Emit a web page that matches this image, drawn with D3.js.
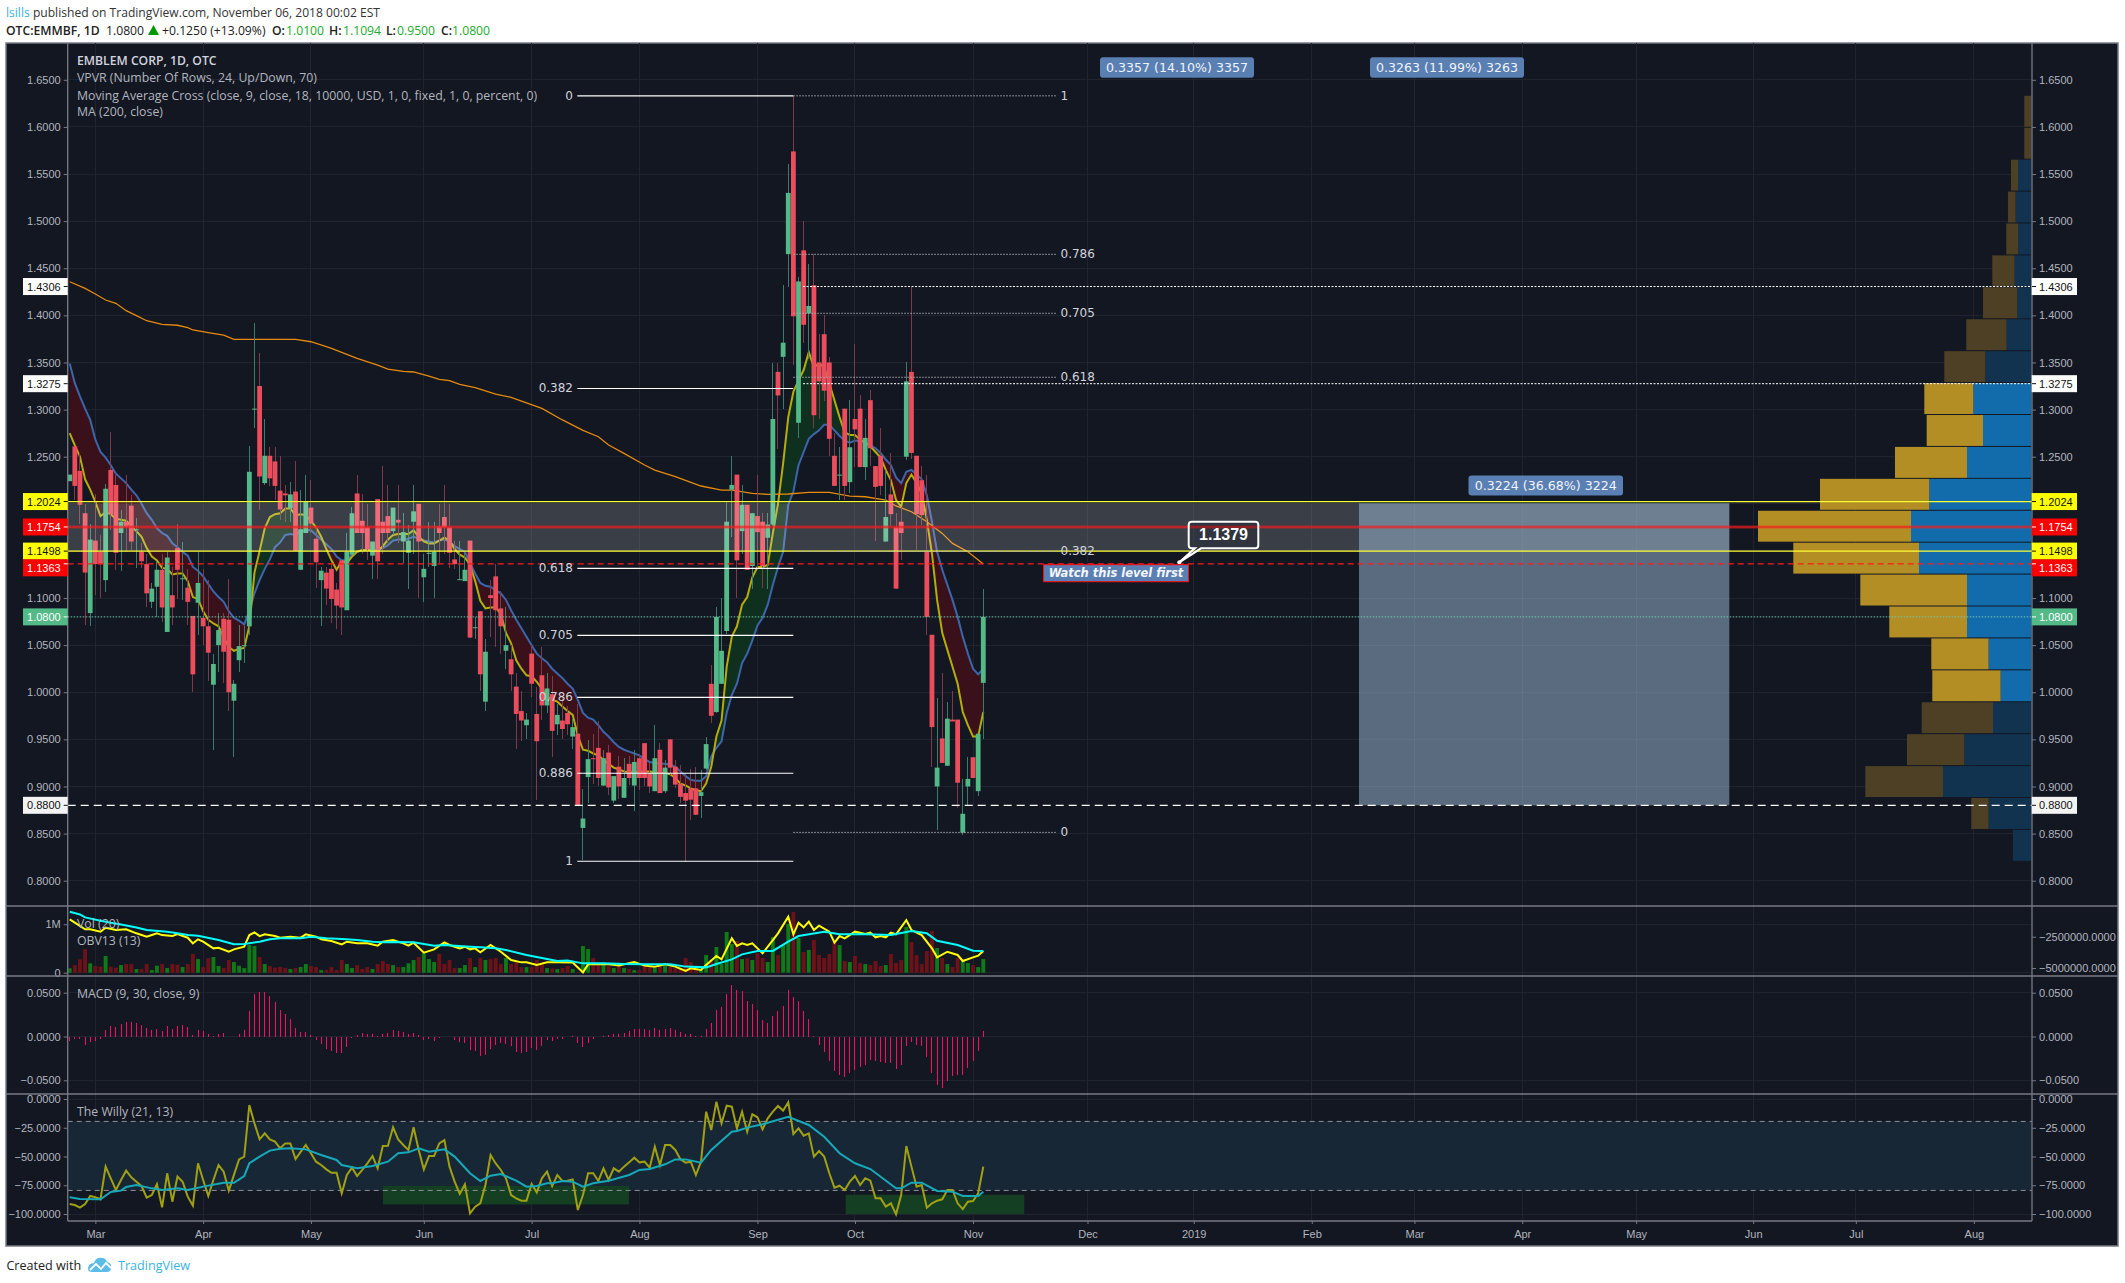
<!DOCTYPE html>
<html><head><meta charset="utf-8">
<style>html,body{margin:0;padding:0;background:#fff}svg{display:block}text{white-space:pre}</style>
<script src="https://cdn.jsdelivr.net/npm/d3@7/dist/d3.min.js"></script></head><body><div id="c"></div>
<script>
const opens=[1.224,1.261,1.235,1.190,1.084,1.161,1.149,1.119,1.236,1.220,1.169,1.181,1.198,1.172,1.149,1.136,1.096,1.112,1.130,1.064,1.103,1.153,1.120,1.111,1.081,1.095,1.079,1.070,1.008,1.050,1.078,1.077,0.991,1.034,1.049,1.070,1.300,1.325,1.222,1.251,1.245,1.214,1.211,1.195,1.213,1.130,1.169,1.196,1.163,1.119,1.127,1.131,1.109,1.140,1.087,1.146,1.211,1.182,1.175,1.145,1.205,1.181,1.187,1.171,1.183,1.160,1.148,1.181,1.200,1.122,1.147,1.134,1.176,1.186,1.175,1.141,1.119,1.118,1.161,1.068,1.086,0.990,1.103,1.123,1.089,1.044,1.035,1.006,0.980,0.965,1.041,0.977,1.018,0.986,0.998,0.966,0.970,0.978,0.953,0.956,0.856,0.910,0.930,0.941,0.901,0.936,0.885,0.921,0.888,0.924,0.901,0.930,0.946,0.914,0.895,0.939,0.895,0.950,0.921,0.903,0.893,0.898,0.898,0.890,0.919,1.009,0.979,1.009,1.065,1.215,1.231,1.171,1.199,1.134,1.187,1.181,1.164,1.178,1.340,1.356,1.465,1.574,1.286,1.469,1.402,1.432,1.350,1.380,1.350,1.251,1.230,1.301,1.223,1.290,1.301,1.239,1.310,1.240,1.251,1.160,1.210,1.175,1.181,1.250,1.340,1.251,1.225,1.149,1.061,0.900,0.951,0.922,0.971,0.971,0.851,0.900,0.931,0.895,1.010];
const highs=[1.231,1.261,1.254,1.200,1.179,1.210,1.167,1.221,1.276,1.231,1.193,1.231,1.209,1.185,1.158,1.147,1.116,1.139,1.147,1.149,1.133,1.179,1.160,1.131,1.081,1.149,1.131,1.119,1.041,1.084,1.084,1.120,1.013,1.071,1.070,1.261,1.392,1.360,1.290,1.260,1.260,1.251,1.220,1.223,1.245,1.215,1.231,1.225,1.176,1.133,1.133,1.137,1.116,1.140,1.169,1.197,1.231,1.210,1.200,1.160,1.205,1.240,1.220,1.196,1.220,1.190,1.178,1.220,1.200,1.147,1.181,1.181,1.200,1.220,1.200,1.161,1.161,1.149,1.161,1.080,1.086,1.056,1.119,1.136,1.107,1.091,1.050,1.020,1.001,0.978,1.050,1.006,1.048,1.020,1.017,0.988,0.995,0.985,0.972,0.988,0.897,0.949,0.956,0.969,0.939,0.944,0.911,0.932,0.930,0.932,0.939,0.935,0.946,0.925,0.965,0.946,0.928,0.950,0.928,0.923,0.914,0.919,0.921,0.917,0.953,1.029,1.091,1.100,1.202,1.251,1.231,1.220,1.199,1.190,1.231,1.190,1.190,1.349,1.349,1.432,1.561,1.633,1.441,1.500,1.454,1.465,1.380,1.400,1.356,1.275,1.260,1.301,1.310,1.370,1.315,1.290,1.321,1.240,1.280,1.236,1.254,1.190,1.197,1.350,1.430,1.251,1.240,1.231,1.061,0.994,1.020,0.990,1.001,0.971,0.908,0.931,0.931,0.956,1.1094];
const lows=[1.224,1.204,1.179,1.071,1.070,1.103,1.100,1.106,1.172,1.130,1.129,1.149,1.150,1.132,1.132,1.091,1.089,1.080,1.075,1.064,1.071,1.099,1.098,1.071,1.000,1.061,1.050,1.012,0.939,1.021,1.010,0.980,0.931,1.021,1.031,1.061,1.280,1.193,1.220,1.219,1.204,1.183,1.181,1.181,1.150,1.130,1.169,1.169,1.111,1.070,1.093,1.073,1.067,1.061,1.087,1.146,1.169,1.147,1.140,1.120,1.120,1.147,1.158,1.167,1.158,1.137,1.110,1.147,1.100,1.096,1.133,1.100,1.137,1.147,1.132,1.131,1.119,1.118,1.058,1.057,1.001,0.980,1.059,1.048,1.041,1.025,1.001,0.940,0.948,0.950,0.995,0.886,0.971,0.978,0.931,0.955,0.950,0.955,0.940,0.880,0.822,0.882,0.903,0.900,0.900,0.891,0.882,0.887,0.888,0.902,0.874,0.896,0.900,0.893,0.895,0.893,0.893,0.912,0.898,0.882,0.820,0.864,0.870,0.867,0.918,0.967,0.978,1.009,1.062,1.165,1.100,1.147,1.130,1.110,1.130,1.111,1.110,1.176,1.258,1.301,1.430,1.347,1.270,1.371,1.354,1.280,1.290,1.309,1.251,1.219,1.204,1.204,1.211,1.239,1.239,1.225,1.240,1.161,1.209,1.160,1.176,1.110,1.140,1.246,1.248,1.151,1.178,1.061,0.921,0.854,0.925,0.922,0.969,0.877,0.849,0.880,0.909,0.890,0.950];
const closes=[1.231,1.219,1.199,1.127,1.162,1.136,1.136,1.216,1.189,1.148,1.181,1.175,1.160,1.173,1.139,1.105,1.110,1.130,1.090,1.143,1.090,1.130,1.121,1.096,1.019,1.116,1.070,1.042,1.030,1.066,1.043,1.000,1.009,1.049,1.050,1.234,1.301,1.229,1.251,1.227,1.219,1.194,1.209,1.210,1.150,1.173,1.202,1.179,1.138,1.129,1.110,1.099,1.092,1.090,1.149,1.190,1.169,1.169,1.152,1.160,1.139,1.169,1.169,1.196,1.180,1.170,1.161,1.192,1.160,1.131,1.148,1.149,1.169,1.175,1.148,1.136,1.120,1.130,1.058,1.069,1.019,1.043,1.100,1.087,1.070,1.050,1.019,0.977,0.970,0.971,1.009,0.948,0.986,1.004,0.959,0.976,0.961,0.966,0.963,0.880,0.866,0.929,0.929,0.909,0.930,0.899,0.911,0.900,0.909,0.909,0.926,0.909,0.909,0.900,0.930,0.893,0.920,0.920,0.902,0.889,0.885,0.886,0.870,0.894,0.945,0.975,1.080,1.044,1.181,1.220,1.140,1.199,1.130,1.190,1.170,1.134,1.178,1.290,1.315,1.371,1.530,1.399,1.436,1.390,1.410,1.294,1.330,1.320,1.269,1.219,1.231,1.219,1.260,1.279,1.239,1.270,1.259,1.218,1.219,1.186,1.189,1.110,1.169,1.330,1.254,1.189,1.188,1.080,0.963,0.920,0.925,0.972,0.969,0.904,0.871,0.908,0.909,0.956,1.080];
const maFast=[1.275,1.262,1.250,1.226,1.215,1.202,1.187,1.191,1.189,1.184,1.183,1.182,1.176,1.171,1.165,1.153,1.144,1.140,1.132,1.131,1.125,1.126,1.126,1.118,1.101,1.099,1.086,1.077,1.073,1.070,1.058,1.048,1.044,1.046,1.047,1.070,1.127,1.150,1.174,1.186,1.189,1.190,1.195,1.195,1.188,1.189,1.188,1.182,1.175,1.165,1.152,1.140,1.130,1.139,1.137,1.144,1.149,1.151,1.151,1.151,1.150,1.155,1.162,1.167,1.168,1.168,1.168,1.172,1.165,1.160,1.158,1.158,1.161,1.164,1.161,1.152,1.146,1.143,1.135,1.118,1.097,1.089,1.090,1.090,1.083,1.063,1.052,1.034,1.025,1.018,1.017,1.011,1.004,0.995,0.992,0.990,0.985,0.980,0.976,0.954,0.939,0.938,0.935,0.933,0.928,0.924,0.920,0.918,0.916,0.915,0.915,0.916,0.916,0.916,0.915,0.914,0.914,0.913,0.909,0.903,0.901,0.898,0.896,0.895,0.903,0.921,0.953,0.970,1.027,1.059,1.070,1.093,1.101,1.122,1.133,1.133,1.135,1.169,1.200,1.243,1.292,1.319,1.331,1.342,1.361,1.345,1.349,1.345,1.328,1.310,1.292,1.276,1.273,1.273,1.268,1.265,1.261,1.255,1.249,1.236,1.225,1.204,1.197,1.222,1.231,1.222,1.211,1.183,1.147,1.098,1.063,1.045,1.027,1.009,0.979,0.965,0.953,0.953,0.979];
const maSlow=[1.349,1.328,1.314,1.301,1.289,1.268,1.255,1.249,1.241,1.232,1.227,1.222,1.215,1.209,1.200,1.190,1.183,1.174,1.169,1.166,1.158,1.154,1.149,1.145,1.133,1.129,1.123,1.115,1.107,1.101,1.096,1.086,1.079,1.076,1.072,1.086,1.105,1.119,1.131,1.141,1.154,1.159,1.167,1.168,1.167,1.171,1.172,1.172,1.167,1.162,1.157,1.152,1.144,1.140,1.140,1.146,1.149,1.151,1.151,1.151,1.151,1.153,1.156,1.161,1.162,1.162,1.163,1.165,1.163,1.161,1.160,1.159,1.161,1.162,1.160,1.155,1.152,1.149,1.137,1.126,1.116,1.113,1.112,1.108,1.105,1.098,1.087,1.077,1.068,1.059,1.050,1.041,1.036,1.032,1.025,1.020,1.015,1.009,1.004,0.992,0.978,0.973,0.971,0.965,0.958,0.953,0.947,0.942,0.939,0.937,0.935,0.933,0.929,0.926,0.925,0.924,0.924,0.923,0.921,0.916,0.911,0.907,0.906,0.906,0.911,0.932,0.941,0.948,0.978,0.997,1.009,1.031,1.041,1.055,1.071,1.079,1.093,1.114,1.133,1.149,1.199,1.213,1.241,1.255,1.269,1.274,1.278,1.284,1.284,1.278,1.272,1.267,1.265,1.267,1.267,1.265,1.262,1.259,1.254,1.247,1.241,1.228,1.222,1.234,1.236,1.231,1.226,1.209,1.181,1.149,1.130,1.114,1.098,1.080,1.059,1.041,1.025,1.019,1.025];
const ma200Bars=[0,3,5,7,9,11,13,15,18,21,23,24,27,30,32,44,47,50,51,56,60,62,65,67,70,72,74,76,79,83,86,92,96,100,103,105,108,112,114,118,123,127,129,133,136,140,144,148,152,155,159,161,164,167,170,172,175,178];
const ma200=[1.4357,1.4287,1.4227,1.4163,1.4128,1.405,1.3997,1.3943,1.3905,1.3895,1.387,1.3845,1.3816,1.379,1.3746,1.3746,1.372,1.3668,1.365,1.3544,1.3473,1.343,1.3406,1.3399,1.3356,1.332,1.3307,1.3268,1.3232,1.3165,1.313,1.3013,1.289,1.278,1.2712,1.2624,1.2535,1.2412,1.2358,1.2288,1.2189,1.2146,1.2146,1.2111,1.21,1.2104,1.2121,1.2121,1.2082,1.2075,1.204,1.1977,1.1916,1.181,1.1686,1.158,1.1492,1.136];
const volumesK=[90,158,276,489,193,138,124,345,124,103,158,179,179,76,76,179,55,145,179,96,179,165,117,179,386,282,117,303,324,138,96,262,220,145,96,572,551,324,179,138,103,117,96,76,96,117,179,138,117,55,55,117,55,262,179,96,158,76,117,76,179,241,179,158,117,117,193,262,324,400,282,220,386,179,262,96,96,158,303,117,303,262,282,303,179,303,179,220,117,117,117,262,179,96,90,76,96,138,76,14,551,489,303,179,158,138,96,138,96,76,55,55,138,138,96,138,138,124,96,76,303,220,96,55,365,241,531,179,841,593,655,282,303,262,407,303,220,737,365,572,1006,1254,717,427,469,675,365,303,386,634,572,241,220,345,200,179,158,241,138,158,386,200,262,944,634,365,179,448,861,510,303,179,117,303,241,200,158,117,282];
const obvBars=[0,1,3,4,6,7,9,11,13,15,16,17,18,20,21,23,24,25,26,28,29,31,32,34,35,36,37,38,40,41,43,45,46,48,49,51,53,54,56,58,60,61,63,65,66,67,69,71,73,74,76,77,78,79,80,82,84,86,88,89,91,93,95,98,100,101,103,105,107,110,112,114,116,118,120,121,123,124,126,127,129,130,131,132,133,135,137,138,140,141,142,143,144,145,146,148,149,150,151,153,155,156,157,158,159,160,161,163,164,166,168,169,171,173,174,176,177,178];
const obvM=[-1.12,-1.38,-1.91,-1.91,-2.10,-1.78,-1.97,-1.91,-2.23,-2.50,-2.37,-2.23,-2.37,-2.45,-2.29,-2.58,-3.03,-2.71,-2.90,-3.43,-3.38,-3.70,-3.51,-3.30,-2.37,-2.15,-2.45,-2.31,-2.45,-2.58,-2.50,-2.58,-2.31,-2.50,-2.71,-2.85,-3.11,-2.90,-3.03,-3.03,-3.22,-2.90,-2.77,-3.03,-3.22,-2.98,-3.78,-3.51,-2.95,-3.16,-3.43,-3.30,-3.51,-3.43,-3.75,-3.16,-3.70,-4.36,-4.55,-4.55,-4.76,-4.55,-4.55,-4.57,-5.35,-4.71,-4.71,-4.71,-4.79,-4.52,-4.81,-4.89,-4.71,-4.89,-5.24,-5.03,-5.16,-4.76,-4.04,-4.31,-2.63,-3.24,-3.03,-3.16,-3.03,-3.83,-2.77,-2.23,-0.90,-2.31,-1.38,-1.76,-1.30,-1.97,-1.62,-2.10,-2.98,-2.45,-2.63,-2.10,-2.29,-2.18,-2.55,-2.45,-2.55,-2.18,-2.31,-1.17,-1.97,-2.37,-3.43,-4.15,-3.70,-3.96,-4.44,-4.15,-4.02,-3.64];
const obvMaBars=[0,2,3,6,8,10,13,15,19,21,23,25,29,32,34,37,39,41,45,47,50,53,56,59,61,63,67,71,73,78,80,83,85,89,93,95,97,100,104,108,112,117,120,124,126,129,131,134,137,140,142,147,150,155,160,164,167,169,173,176,178];
const obvMa=[-0.51,-0.72,-0.96,-1.22,-1.38,-1.52,-1.76,-1.97,-2.10,-2.23,-2.37,-2.42,-2.77,-3.11,-3.09,-2.90,-2.71,-2.63,-2.63,-2.50,-2.63,-2.69,-2.77,-2.90,-2.95,-2.93,-2.95,-3.22,-3.16,-3.30,-3.35,-3.43,-3.56,-3.96,-4.28,-4.44,-4.41,-4.63,-4.63,-4.68,-4.71,-4.71,-4.89,-4.95,-4.68,-4.31,-3.91,-3.64,-3.64,-2.90,-2.45,-2.10,-2.31,-2.31,-2.37,-2.05,-2.23,-2.82,-3.16,-3.62,-3.64];
const macdHist=[-.0057,-.0030,-.0030,-.0095,-.0068,-.0057,-.0030,.0076,.0121,.0106,.0144,.0167,.0167,.0152,.0129,.0095,.0076,.0091,.0064,.0121,.0087,.0125,.0133,.0106,.0015,.0072,.0064,.0030,.0011,.0030,.0042,0,-.0008,.0034,.0076,.0292,.0485,.0508,.0508,.0462,.0394,.0303,.0258,.0197,.0099,.0053,.0053,.0015,-.0045,-.0091,-.0140,-.0171,-.0186,-.0186,-.0117,-.0015,.0015,.0038,.0023,.0030,.0008,.0030,.0045,.0076,.0064,.0053,.0030,.0042,.0019,-.0038,-.0030,-.0049,-.0019,0,-.0011,-.0045,-.0068,-.0072,-.0152,-.0171,-.0227,-.0216,-.0140,-.0095,-.0076,-.0083,-.0106,-.0174,-.0186,-.0174,-.0129,-.0152,-.0106,-.0038,-.0049,-.0027,-.0027,0,.0008,-.0076,-.0117,-.0076,-.0027,-.0008,.0011,.0015,.0027,.0027,.0038,.0064,.0087,.0087,.0087,.0076,.0099,.0076,.0083,.0095,.0072,.0053,.0027,.0027,.0008,.0008,.0083,.0152,.0303,.0337,.0485,.0587,.0531,.0519,.0406,.0371,.0303,.0190,.0155,.0235,.0292,.0349,.0531,.0451,.0406,.0292,.0201,.0008,-.0095,-.0174,-.0277,-.0390,-.0436,-.0459,-.0413,-.0379,-.0345,-.0322,-.0265,-.0277,-.0288,-.0299,-.0299,-.0368,-.0322,-.0106,-.0061,-.0095,-.0106,-.0231,-.0413,-.0550,-.0584,-.0512,-.0447,-.0436,-.0436,-.0360,-.0280,-.0163,.0064];
const willy=[-91.3,-92.2,-94.5,-91.3,-84.3,-85.5,-87.2,-58.8,-69.0,-79.1,-70.4,-62.3,-68.1,-71.9,-75.7,-85.8,-83.5,-73.9,-94.2,-64.6,-89.3,-67.5,-71.9,-84.9,-92.8,-55.9,-70.4,-84.3,-70.4,-57.4,-63.2,-79.7,-66.0,-52.5,-50.1,-5.2,-21.2,-35.1,-29.9,-35.1,-37.1,-42.9,-38.6,-38.6,-52.2,-46.0,-40.0,-47.2,-54.5,-57.4,-61.2,-64.1,-64.1,-82.0,-66.1,-59.7,-67.0,-61.7,-55.9,-49.6,-60.3,-40.9,-40.6,-24.6,-35.1,-40.0,-44.3,-24.6,-44.3,-61.2,-49.6,-49.6,-38.6,-35.7,-58.8,-71.9,-82.6,-74.2,-99.4,-93.6,-90.7,-74.8,-48.7,-56.0,-61.7,-69.0,-83.5,-86.4,-88.4,-88.4,-73.9,-81.2,-69.0,-63.2,-75.7,-66.1,-71.3,-71.0,-69.9,-96.5,-83.5,-64.6,-64.6,-71.3,-60.3,-70.4,-60.3,-63.2,-58.8,-55.1,-51.0,-55.1,-54.5,-59.7,-41.4,-57.4,-40.0,-40.0,-44.3,-52.5,-55.4,-54.5,-66.1,-54.5,-11.0,-27.0,-2.3,-21.2,-5.8,-6.7,-25.5,-11.0,-28.4,-13.3,-15.9,-26.4,-16.8,-11.0,-6.1,-10.1,-2.9,-30.4,-25.5,-31.9,-29.9,-50.1,-45.2,-50.1,-64.6,-77.1,-75.4,-79.1,-71.9,-67.0,-74.8,-69.0,-71.0,-86.4,-86.4,-93.6,-90.7,-100.3,-83.5,-40.9,-58.8,-76.2,-74.8,-94.5,-90.7,-88.4,-87.2,-79.1,-79.1,-90.7,-95.7,-89.3,-88.7,-82.0,-58.8];
const willyMaBars=[0,2,6,8,10,11,13,16,18,21,23,26,30,32,34,35,37,39,41,43,46,49,52,53,56,59,62,64,66,68,70,73,75,78,80,82,84,87,89,91,93,94,96,98,100,102,105,109,111,113,116,118,120,123,125,129,130,132,135,140,144,147,150,153,156,161,162,164,166,169,172,174,177,178];
const willyMa=[-85.5,-87.0,-87.2,-80.9,-79.7,-76.5,-74.8,-77.7,-79.1,-77.7,-79.1,-76.2,-72.8,-72.8,-67.0,-55.9,-50.1,-44.9,-43.2,-42.9,-43.8,-48.7,-53.0,-57.4,-60.3,-58.3,-54.5,-47.2,-46.4,-42.9,-45.8,-43.8,-50.1,-64.6,-71.3,-66.7,-65.2,-71.0,-76.2,-75.7,-73.3,-73.3,-71.3,-71.9,-76.2,-73.3,-71.0,-66.1,-61.7,-60.9,-56.8,-52.5,-52.5,-55.4,-44.3,-28.4,-27.8,-24.9,-22.0,-15.4,-22.6,-32.8,-47.2,-55.9,-60.9,-77.7,-77.7,-72.8,-72.8,-80.0,-80.6,-84.3,-84.3,-80.6];
const vpHighPrice=1.633, vpLowPrice=0.82;
const vpDown=[7,7,7,7.7,12,22.3,34.3,40.3,41,49,56.3,72,109.3,153,125.7,106.7,77.7,57.3,68.3,71.3,57.3,77.7,17.3,0];
const vpUp=[0,0,13.3,15.7,13,16.7,14,24.7,46,58,48.3,64.3,102,120.3,112.3,64.3,64.3,42.7,30.7,38.3,67,88.3,42.7,18.3];
const vpValueAreaRows=[9,18];
const priceTicks=[0.8,0.85,0.9,0.95,1.0,1.05,1.1,1.15,1.2,1.25,1.3,1.35,1.4,1.45,1.5,1.55,1.6,1.65];
const monthBars=[5,26,47,69,90,111,134,153,176,198.3,219,242,262,283,305.2,328,348,371];
const monthLabels=["Mar","Apr","May","Jun","Jul","Aug","Sep","Oct","Nov","Dec","2019","Feb","Mar","Apr","May","Jun","Jul","Aug"];
const fibLeftLabels=["0","0.382","0.618","0.705","0.786","0.886","1"];
const fibLeftPrices=[1.633,1.3224,1.1315,1.0604,0.9946,0.914,0.8206];
const fibRightLabels=["1","0.786","0.705","0.618","0.382","0"];
const fibRightPrices=[1.633,1.4648,1.4022,1.3343,1.1494,0.8513];

// --- geometry
const W=2125,H=1283,L=67.7,R=2032,FR=2118,FB=1246,FL=6,FT=43;
const BG="#131722",GRID="#20242f",EDGE="#787b86",TXT="#b2b5be";
const UP="#53b987",DOWN="#eb4d5c";
const n=closes.length;
const svg=d3.select("#c").append("svg").attr("width",W).attr("height",H).attr("viewBox",`0 0 ${W} ${H}`);
const x=d3.scaleLinear().domain([0,178]).range([69.7,983.3]);
const yP=d3.scaleLinear().domain([1.25,0.8]).range([456.7,880.7]);
const yV=d3.scaleLinear().domain([0,1000]).range([972.7,924.3]);
const yO=d3.scaleLinear().domain([-2.5,-5]).range([936.7,968]);
const yM=d3.scaleLinear().domain([0.05,-0.05]).range([992.7,1080.3]);
const yW=d3.scaleLinear().domain([0,-100]).range([1099,1214]);
const idx=d3.range(n);
const sans="'Liberation Sans',Arial,sans-serif", dj="'DejaVu Sans',Verdana,sans-serif", os="'Open Sans',sans-serif";

function text(g,px,py,s,o={}){return g.append("text").attr("x",px).attr("y",py).attr("dominant-baseline","central")
  .attr("text-anchor",o.a||"start").attr("font-family",o.f||sans).attr("font-size",o.s||11).attr("font-weight",o.w||null)
  .attr("font-style",o.i?"italic":null).attr("fill",o.c||TXT).text(s);}

// header
const head=svg.append("g");
const h1=head.append("text").attr("x",6).attr("y",12).attr("dominant-baseline","central").attr("font-family",os).attr("font-size",12.1);
h1.append("tspan").attr("fill","#3bb3e4").text("lsills");
h1.append("tspan").attr("fill","#333").text(" published on TradingView.com, November 06, 2018 00:02 EST");
const gc="#22ab2c";
text(head,6,30,"OTC:EMMBF, 1D",{f:os,s:12.2,w:600,c:"#222"});
text(head,106,30,"1.0800",{f:os,s:12.2,c:"#222"});
head.append("path").attr("d","M153.5 25 L159 35 L148 35 Z").attr("fill","#009a00");
text(head,162,30,"+0.1250 (+13.09%)",{f:os,s:12.2,c:"#222"});
[["O:",272,"1.0100",286],["H:",329,"1.1094",343],["L:",386,"0.9500",397],["C:",441,"1.0800",452]].forEach(d=>{
  text(head,d[1],30,d[0],{f:os,s:12.2,w:600,c:"#222"});
  text(head,d[3],30,d[2],{f:os,s:12.2,c:gc});
});

// frame
svg.append("rect").attr("x",FL).attr("y",FT).attr("width",FR-FL).attr("height",FB-FT).attr("fill",BG).attr("stroke",EDGE).attr("stroke-width",1.5);

// grid
const grid=svg.append("g").attr("stroke",GRID).attr("stroke-width",1).attr("shape-rendering","crispEdges");
monthBars.forEach(b=>grid.append("line").attr("x1",x(b)).attr("x2",x(b)).attr("y1",FT).attr("y2",1221));
function hGrid(scale,vals){vals.forEach(v=>grid.append("line").attr("x1",L).attr("x2",R).attr("y1",scale(v)).attr("y2",scale(v)));}
hGrid(yP,priceTicks);hGrid(yV,[0,1000]);hGrid(yM,[0.05,0,-0.05]);hGrid(yW,[0,-25,-50,-75,-100]);

// clips
const defs=svg.append("defs");
[["cp",43,906],["cv",906,976],["cm",976,1094],["cw",1094,1221]].forEach(c=>defs.append("clipPath").attr("id",c[0]).append("rect").attr("x",L).attr("y",c[1]).attr("width",R-L).attr("height",c[2]-c[1]));
const gP=svg.append("g").attr("clip-path","url(#cp)");
const gV=svg.append("g").attr("clip-path","url(#cv)");
const gM=svg.append("g").attr("clip-path","url(#cm)");
const gW=svg.append("g").attr("clip-path","url(#cw)");

// VPVR
const vpBand=(vpHighPrice-vpLowPrice)/vpUp.length;
const vpX=d3.scaleLinear().domain([0,100]).range([0,100]);
const vpRight=2031.3;
vpUp.forEach((u,r)=>{
  const top=yP(vpHighPrice-r*vpBand),bot=yP(vpHighPrice-(r+1)*vpBand)-1;
  const inVA=r>=vpValueAreaRows[0]&&r<=vpValueAreaRows[1];
  gP.append("rect").attr("x",vpRight-vpX(u)).attr("y",top).attr("width",vpX(u)).attr("height",bot-top).attr("fill",inVA?"#126cab":"#12334f");
  gP.append("rect").attr("x",vpRight-vpX(u)-vpX(vpDown[r])).attr("y",top).attr("width",vpX(vpDown[r])).attr("height",bot-top).attr("fill",inVA?"#b38e25":"#4d4024");
});

// MA cross fill
const area=d3.area().x(i=>x(i)).y0(i=>yP(maFast[i])).y1(i=>yP(maSlow[i]));
let run=[0];
function flush(r,red){gP.append("path").attr("d",area(r)).attr("fill",red?"#3a111a":"#10301f");}
for(let i=1;i<n;i++){
  const a=maSlow[i-1]>=maFast[i-1],b=maSlow[i]>=maFast[i];
  run.push(i);
  if(a!==b){flush(run,a);run=[i];}
}
flush(run,maSlow[n-1]>=maFast[n-1]);
gP.append("path").attr("d",d3.line().x((d,i)=>x(i)).y(d=>yP(d))(maSlow)).attr("fill","none").attr("stroke","#3c66ab").attr("stroke-width",2);
gP.append("path").attr("d",d3.line().x((d,i)=>x(i)).y(d=>yP(d))(maFast)).attr("fill","none").attr("stroke","#b5ad0c").attr("stroke-width",2);
gP.append("path").attr("d",d3.line().x((d,i)=>x(ma200Bars[i])).y(d=>yP(d))(ma200)).attr("fill","none").attr("stroke","#e58a0c").attr("stroke-width",1.3);

// candles
idx.forEach(i=>{
  const up=closes[i]>=opens[i];
  gP.append("line").attr("x1",x(i)).attr("x2",x(i)).attr("y1",yP(highs[i])).attr("y2",yP(lows[i])).attr("stroke",up?"#3c7d6a":"#7c3a4a").attr("stroke-width",1).attr("shape-rendering","crispEdges");
  const t=yP(Math.max(opens[i],closes[i])),b=yP(Math.min(opens[i],closes[i]));
  gP.append("rect").attr("x",x(i)-2.4).attr("width",4.8).attr("y",t).attr("height",Math.max(b-t,1)).attr("fill",up?UP:DOWN);
});

// zone + measure box
const zoneTop=1.2005,zoneBot=1.1498,boxBot=0.88;
gP.append("rect").attr("x",L).attr("width",1729.3-L).attr("y",yP(zoneTop)).attr("height",yP(zoneBot)-yP(zoneTop)).attr("fill","rgba(255,255,255,0.17)");
gP.append("rect").attr("x",1359).attr("width",1729.3-1359).attr("y",yP(zoneTop)).attr("height",yP(boxBot)-yP(zoneTop)).attr("fill","rgba(161,191,222,0.5)");

// price lines
function hl(g,p,xa,xb,c,w,dash){g.append("line").attr("x1",xa).attr("x2",xb).attr("y1",yP(p)).attr("y2",yP(p)).attr("stroke",c).attr("stroke-width",w).attr("stroke-dasharray",dash||null);}
hl(gP,1.2024,L,R,"#ffff33",1.2);
hl(gP,1.1498,L,R,"#ffff33",1.2);
hl(gP,1.1754,L,R,"rgba(255,30,30,0.35)",3.4);
hl(gP,1.1754,L,R,"rgba(240,30,30,0.7)",1.3);
hl(gP,1.1363,L,R,"#ff1a1a",1.2,"6,4");
hl(gP,1.08,L,R,"#6fc9a8",1,"1.5,1.5");
hl(gP,0.88,L,R,"#fff",1.2,"8,5");
hl(gP,1.4306,803,R,"#fff",1,"2,1.5");
hl(gP,1.3275,803,R,"#fff",1,"2,1.5");

// fibs
fibLeftPrices.forEach((p,i)=>{hl(gP,p,577.3,793.3,"#fff",1.1);
  text(gP,573,yP(p),fibLeftLabels[i],{f:dj,s:12,a:"end",c:"#d1d4dc"});});
fibRightPrices.forEach((p,i)=>{hl(gP,p,793.3,1056,"#a9acb3",1,"1.5,1.5");
  text(gP,1060.5,yP(p),fibRightLabels[i],{f:dj,s:12,c:"#d1d4dc"});});

// volume pane
const vw=3.9;
volumesK.forEach((v,i)=>gV.append("rect").attr("x",x(i)-vw/2).attr("width",vw).attr("y",yV(v)).attr("height",yV(0)-yV(v)).attr("fill",closes[i]>=opens[i]?"#0f7a17":"#6d1219"));
gV.append("path").attr("d",d3.line().x((d,i)=>x(obvBars[i])).y(d=>yO(d))(obvM)).attr("fill","none").attr("stroke","#ffff00").attr("stroke-width",2);
gV.append("path").attr("d",d3.line().x((d,i)=>x(obvMaBars[i])).y(d=>yO(d))(obvMa)).attr("fill","none").attr("stroke","#00ffff").attr("stroke-width",2);

// macd
macdHist.forEach((v,i)=>gM.append("line").attr("x1",x(i)).attr("x2",x(i)).attr("y1",yM(0)).attr("y2",yM(v)).attr("stroke","#ff0a60").attr("stroke-width",1).attr("shape-rendering","crispEdges"));

// willy
gW.append("rect").attr("x",L).attr("width",R-L).attr("y",yW(-19.5)).attr("height",yW(-79.5)-yW(-19.5)).attr("fill","#182735");
[[383,629,-75.6,-91.7],[845.7,1024.3,-83.3,-100]].forEach(r=>gW.append("rect").attr("x",r[0]).attr("width",r[1]-r[0]).attr("y",yW(r[2])).attr("height",yW(r[3])-yW(r[2])).attr("fill","#143f22"));
[-19.5,-79.5].forEach(v=>gW.append("line").attr("x1",L).attr("x2",R).attr("y1",yW(v)).attr("y2",yW(v)).attr("stroke","#8e9096").attr("stroke-width",1).attr("stroke-dasharray","5,4"));
gW.append("path").attr("d",d3.line().x((d,i)=>x(i)).y(d=>yW(d))(willy)).attr("fill","none").attr("stroke","#a0a014").attr("stroke-width",2);
gW.append("path").attr("d",d3.line().x((d,i)=>x(willyMaBars[i])).y(d=>yW(d))(willyMa)).attr("fill","none").attr("stroke","#16a9ba").attr("stroke-width",2);

// axes
function style(g){g.attr("font-family",sans).attr("font-size",11);g.selectAll("path.domain").remove();
  g.selectAll("line").attr("stroke",EDGE);g.selectAll("text").attr("fill",TXT);}
const f4=d3.format(".4f");
const ax=(ctor,scale,vals,fmt,px)=>svg.append("g").attr("transform",`translate(${px},0)`).call(d3[ctor](scale).tickValues(vals).tickFormat(fmt).tickSize(4).tickPadding(3)).call(style);
ax("axisLeft",yP,priceTicks,f4,L);ax("axisRight",yP,priceTicks,f4,R);
ax("axisLeft",yV,[0,1000],v=>v?"1M":"0",L);
ax("axisRight",yO,[-2.5,-5],v=>d3.format(".4f")(v*1e6),R);
ax("axisLeft",yM,[0.05,0,-0.05],f4,L);ax("axisRight",yM,[0.05,0,-0.05],f4,R);
ax("axisLeft",yW,[0,-25,-50,-75,-100],f4,L);ax("axisRight",yW,[0,-25,-50,-75,-100],f4,R);
svg.append("g").attr("transform","translate(0,1221)").call(d3.axisBottom(x).tickValues(monthBars).tickFormat((d,i)=>monthLabels[i]).tickSize(3).tickPadding(6)).call(style);

// pane separators and axis lines
const seps=svg.append("g").attr("stroke",EDGE).attr("stroke-width",1.3);
[906,976,1094].forEach(v=>seps.append("line").attr("x1",FL).attr("x2",FR).attr("y1",v).attr("y2",v));
seps.append("line").attr("x1",L).attr("x2",L).attr("y1",FT).attr("y2",1221);
seps.append("line").attr("x1",R).attr("x2",R).attr("y1",FT).attr("y2",1221);
seps.append("line").attr("x1",L).attr("x2",R).attr("y1",1221).attr("y2",1221);

// price tags
const tagPrices=[1.4306,1.3275,1.2024,1.1754,1.1498,1.1363,1.08,0.88];
const tagFill=["#fff","#fff","#ffff00","#ff0000","#ffff00","#ff0000","#53b987","#f3f3f3"];
const tagInk=["#111","#111","#111","#fff","#111","#fff","#fff","#111"];
const tagShift=[0,0,0,0,0,4,0,0];
tagPrices.forEach((p,i)=>{
  const c=yP(p)+tagShift[i];
  [[23,L-23,60.7,"end",L-4,L],[R-0.3,45.3,2039,"start",R,R+4]].forEach(s=>{
    svg.append("rect").attr("x",s[0]).attr("y",c-8.5).attr("width",s[1]).attr("height",17).attr("fill",tagFill[i]);
    svg.append("line").attr("x1",s[4]).attr("x2",s[5]).attr("y1",yP(p)).attr("y2",yP(p)).attr("stroke",tagInk[i]);
    text(svg,s[2],c,f4(p),{a:s[3],c:tagInk[i],s:11});
  });
});

// legends
const lg=svg.append("g");
text(lg,77,60.7,"EMBLEM CORP, 1D, OTC",{f:os,s:12.2,w:600,c:"#d1d4dc"});
text(lg,77,77.7,"VPVR (Number Of Rows, 24, Up/Down, 70)",{f:os,s:12.3});
text(lg,77,95,"Moving Average Cross (close, 9, close, 18, 10000, USD, 1, 0, fixed, 1, 0, percent, 0)",{f:os,s:12.3});
text(lg,77,111.7,"MA (200, close)",{f:os,s:12.3});
text(lg,77,923,"Vol (20)",{f:os,s:12.3});
text(lg,77,940,"OBV13 (13)",{f:os,s:12.3});
text(lg,77,993.7,"MACD (9, 30, close, 9)",{f:os,s:12.3});
text(lg,77,1111.7,"The Willy (21, 13)",{f:os,s:12.3});

// measure pills
const pills=[[1100,57.3,154,20.4,"0.3357 (14.10%) 3357"],[1370,57.3,154,20.4,"0.3263 (11.99%) 3263"],[1468.5,475.5,154.5,20,"0.3224 (36.68%) 3224"]];
pills.forEach(p=>{svg.append("rect").attr("x",p[0]).attr("y",p[1]).attr("width",p[2]).attr("height",p[3]).attr("rx",3).attr("fill","#5a7fb2");
  text(svg,p[0]+p[2]/2,p[1]+p[3]/2,p[4],{f:dj,s:12.6,a:"middle",c:"#f0f3fa"});});

// callouts
svg.append("path").attr("d","M1191.7 521.7 H1255.3 Q1258.3 521.7 1258.3 524.7 V545.3 Q1258.3 548.3 1255.3 548.3 H1201 L1179.3 562.3 L1195 548.3 H1191.7 Q1188.7 548.3 1188.7 545.3 V524.7 Q1188.7 521.7 1191.7 521.7 Z")
  .attr("fill",BG).attr("fill-opacity",0.25).attr("stroke","#fff").attr("stroke-width",2);
svg.append("circle").attr("cx",1179.3).attr("cy",562.3).attr("r",2).attr("fill","#fff");
text(svg,1223.5,534.5,"1.1379",{s:16,w:700,a:"middle",c:"#fff"});
svg.append("rect").attr("x",1043.5).attr("y",564.7).attr("width",145).attr("height",17).attr("fill","#5a7fb2").attr("stroke","#ff0a0a").attr("stroke-width",1);
text(svg,1116,573.2,"Watch this level first",{f:dj,s:11.5,w:700,i:true,a:"middle",c:"#f4f6fb"});

// footer
const fg=svg.append("g");
text(fg,6.4,1265.7,"Created with",{f:os,s:12.6,c:"#222"});
fg.append("path").attr("d","M88 1269 Q88 1263 94 1263 Q96 1257 102 1258 Q106 1258 107 1262 Q112 1263 111 1268 Q111 1272 107 1272 H92 Q88 1272 88 1269 Z").attr("fill","#5bbce8");
fg.append("path").attr("d","M90 1270 L96 1264 L101 1269 L106 1263 L111 1268").attr("fill","none").attr("stroke","#fff").attr("stroke-width",1.8);
text(fg,118,1265.7,"TradingView",{f:os,s:12.6,c:"#3bb3e4"});
</script></body></html>
